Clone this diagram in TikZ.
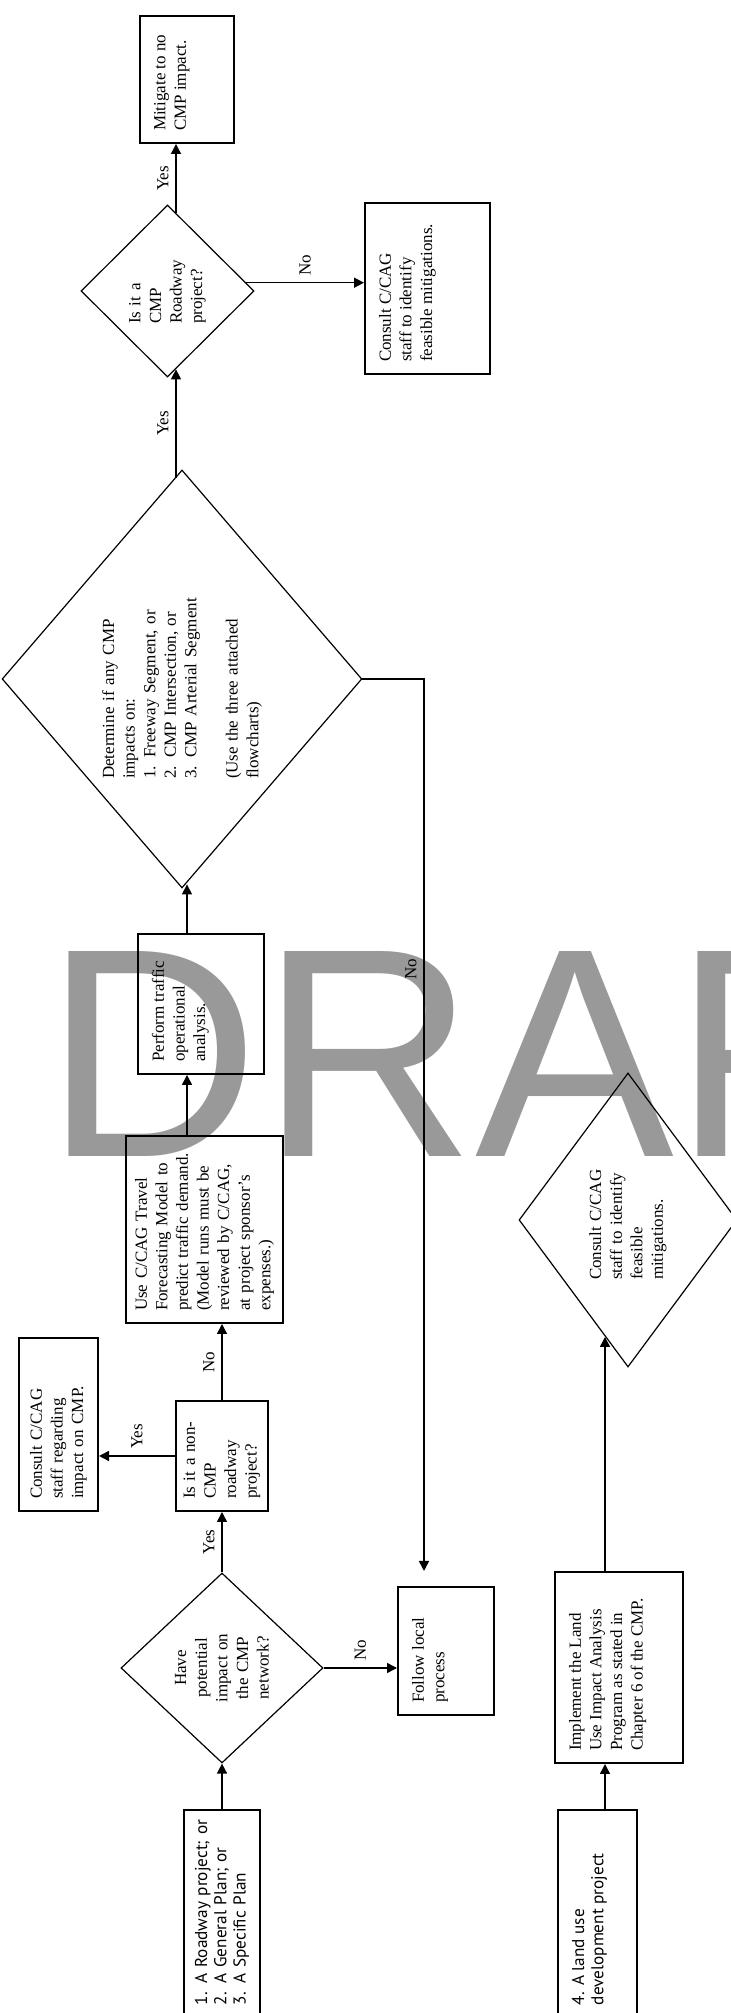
\documentclass[tikz,border=0pt]{standalone}
\usepackage{fontspec}
\setmainfont{Liberation Serif}
\newfontfamily\startfont{PT Sans}
\newfontfamily\markfont{Liberation Sans}
\usepackage{tikz}
\usetikzlibrary{arrows.meta, positioning, shapes.geometric}
\newcommand{\topbox}[3]{\parbox[c][#2][t]{#1}{\raggedright #3}}

\begin{document}
\begin{tikzpicture}[rotate=90, x=0.5pt, y=0.5pt, >={Triangle[length=5pt,width=5pt]},
        every node/.style={transform shape, font=\fontsize{8.5}{10.3}\selectfont},
        box/.style={rectangle, draw, line width=1pt, inner xsep=6pt, inner ysep=2pt, align=left},
        startbox/.style={box, inner xsep=4.5pt, font=\startfont\fontsize{8.6}{9.6}\selectfont},
        decision/.style={diamond, draw, line width=0.6pt, inner sep=0pt, align=left},
        link/.style={->, line width=0.75pt},
        draftmark/.style={rotate=-90, anchor=base west, inner sep=0pt, text=black!40, font=\markfont\fontsize{149}{149}\selectfont}]

        \useasboundingbox (0,0) rectangle (2013,-731);

        \node[draftmark] (draft) at (856,-44.5) {DRAFT};

        \node[box, minimum width=63.5pt, minimum height=47pt] (mitig) at (1933.5,-187) {\topbox{51.5pt}{33pt}{Mitigate to no\\CMP impact.}};
        \node[decision, minimum width=86pt, minimum height=86.5pt, text width=33pt] (roadq) at (1722,-167.5) {Is it a\\CMP\\Roadway\\project?};
        \node[box, minimum width=85.5pt, minimum height=62.5pt] (mitcons) at (1724.5,-427.5) {\topbox{73.5pt}{48.5pt}{Consult C/CAG\\staff to identify\\feasible mitigations.}};
        \node[decision, minimum width=209pt, minimum height=173pt, text width=100pt] (impq) at (1334,-182) {Determine if any CMP\\impacts on:\\1. Freeway Segment, or\\2. CMP Intersection, or\\3. CMP Arterial Segment\\[10.3pt](Use the three attached\\flowcharts)};
        \node[box, minimum width=70pt, minimum height=63pt] (perf) at (1009,-201) {\topbox{58pt}{49pt}{Perform traffic\\operational\\analysis.}};
        \node[box, minimum width=93.5pt, minimum height=78.5pt, text width=81.5pt] (model) at (783.5,-204.5) {Use C/CAG Travel\\Forecasting Model to\\predict traffic demand.\\(Model runs must be\\reviewed by C/CAG,\\at project sponsor's\\expenses.)};
        \node[box, minimum width=55pt, minimum height=46pt, text width=43pt] (nonq) at (557,-222) {Is it a non-\\CMP\\roadway\\project?};
        \node[box, minimum width=86.5pt, minimum height=39.5pt, text width=74.5pt] (cmpcons) at (588.5,-58.5) {Consult C/CAG\\staff regarding\\impact on CMP.};
        \node[decision, align=center, minimum width=95pt, minimum height=101pt, text width=40pt] (netq) at (345,-222) {Have\\potential\\impact on\\the CMP\\network?};
        \node[box, minimum width=64pt, minimum height=48pt] (local) at (362,-446) {\topbox{52pt}{34pt}{Follow local\\process}};
        \node[box, minimum width=95.5pt, minimum height=64pt] (landuse) at (345.5,-619) {\topbox{83.5pt}{50pt}{Implement the Land\\Use Impact Analysis\\Program as stated in\\Chapter 6 of the CMP.}};
        \node[decision, minimum width=147pt, minimum height=109pt, text width=60pt] (feasq) at (793,-628) {Consult C/CAG\\staff to identify\\feasible\\mitigations.};
        \node[startbox, minimum width=102pt, minimum height=38pt, text width=93pt] (proj) at (101,-222) {1. A Roadway project; or\\2. A General Plan; or\\3. A Specific Plan};
        \node[startbox, minimum width=102pt, minimum height=39.5pt] (landdev) at (101,-597.5) {\topbox{93pt}{25.5pt}{4. A land use\\development project}};

        \coordinate (laneA) at (0,-187);
        \coordinate (laneB) at (0,-176);
        \coordinate (laneC) at (0,-424);
        \coordinate (laneD) at (0,-605);

        \draw[link] (proj) -- (netq);
        \draw[link] (netq) -- node[above] {Yes} (nonq);
        \draw[link] (nonq.north) -- node[right] {Yes} (nonq.north |- cmpcons.south);
        \draw[link] (nonq.east) -- node[above] {No} (model.west |- nonq.east);
        \draw[link] (model.east |- laneA) -- (perf.west |- laneA);
        \draw[link] (perf.east |- laneA) -- (impq.181 |- laneA);
        \draw[link] (impq.2 |- laneB) -- node[above] {Yes} (roadq.186 |- laneB);
        \draw[link] (roadq.-6 |- laneB) -- node[above] {Yes} (mitig.west |- laneB);
        \draw[link] (roadq.-84) -- node[right] {No} (roadq.-84 |- mitcons.north);
        \draw[link] (netq.south) -- node[right] {No} (netq.south |- local.north);
        \draw[link, shorten >=7.5pt] (impq.south) |- node[pos=0.66, above] {No} (local.east |- laneC);
        \draw[link] (landdev.east |- laneD) -- (landuse.west |- laneD);
        \draw[link] (landuse.east |- laneD) -- (feasq.169 |- laneD);
    \end{tikzpicture}
\end{document}
